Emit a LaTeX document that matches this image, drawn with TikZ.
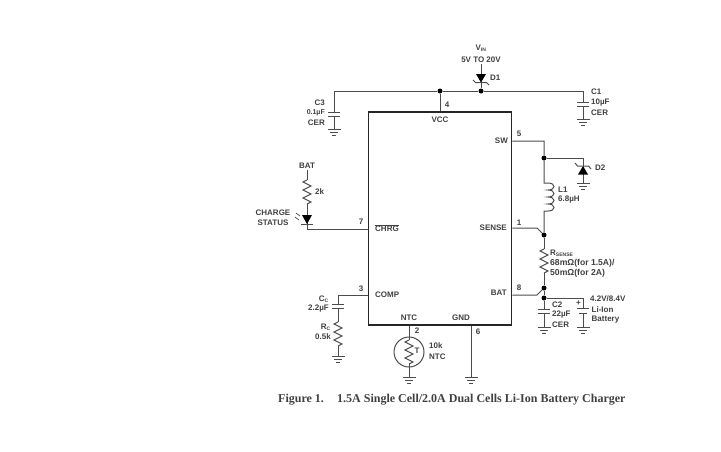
\documentclass[tikz,border=0pt]{standalone}
\usepackage{fontspec}
\setmainfont{Liberation Sans}
\newfontfamily\capfont{Liberation Serif}
\usetikzlibrary{positioning}
\definecolor{wirecol}{gray}{0.30}
\definecolor{textcol}{gray}{0.25}
\tikzset{
    wire/.style={draw=wirecol, line width=1pt},
    chipbox/.style={draw=black!85, line width=1.3pt},
    dot/.style={circle, fill=black, inner sep=0pt, minimum size=5pt},
    lbl/.style={inner sep=0pt, text=textcol, font=\fontsize{8}{8}\selectfont\bfseries},
    pin/.style={lbl},
    gnd/.pic={
        \draw[wire] (-6.5,0) -- (6.5,0);
        \draw[wire] (-4,3) -- (4,3);
        \draw[wire] (-2,6) -- (2,6);
    },
    resv/.pic={
        \draw[wire] (0,0) -- (-4,2) -- (4,6) -- (-4,10) -- (4,14) -- (-4,18) -- (4,22) -- (0,24);
    },
    capv/.pic={
        \draw[wire] (-6,0) -- (6,0);
        \draw[wire] (-6,4) -- (6,4);
    }
}
\begin{document}
\begin{tikzpicture}[x=1pt, y=-1pt]
    \useasboundingbox (0,0) rectangle (721,451);

    % Chip
    \node[chipbox, minimum width=143.5pt, minimum height=213pt, inner sep=0pt] (chip) at (440,218.5) {};
    \node[lbl] (vcc) at (440,120) {VCC};
    \node[lbl, anchor=east] (sw) at (508,141) {SW};
    \node[lbl, anchor=east] (sense) at (507,228) {SENSE};
    \node[lbl, anchor=east] (batpin) at (507,293) {BAT};
    \node[lbl, anchor=west] (chrg) at (375,228) {$\overline{\mbox{CHRG}}$};
    \node[lbl, anchor=west] (comp) at (375,295) {COMP};
    \node[lbl] (ntcpin) at (409,318) {NTC};
    \node[lbl] (gndpin) at (461,318) {GND};

    % Pin numbers
    \node[pin] (n4) at (447,105) {4};
    \node[pin] (n5) at (519,134) {5};
    \node[pin] (n1) at (519,223) {1};
    \node[pin] (n8) at (519,288) {8};
    \node[pin] (n7) at (361,222) {7};
    \node[pin] (n3) at (361,289) {3};
    \node[pin] (n2) at (417,331) {2};
    \node[pin] (n6) at (478,332) {6};

    % Junctions
    \node[dot] (jvcc) at (440,91) {};
    \node[dot] (jd1) at (481,91) {};
    \node[dot] (jd2) at (544,158) {};
    \node[dot] (jsense) at (544,235) {};
    \node[dot] (jbat) at (544,288) {};
    \node[dot] (jout) at (544,298) {};

    % VCC rail, C3 and C1
    \coordinate (c3top) at (334,91);
    \coordinate (c1top) at (583,91);
    \draw[wire] (jvcc) -- (chip.north -| jvcc);
    \draw[wire] (c3top) -- (jvcc) -- (jd1) -- (c1top);
    \draw[wire] (c3top) -- (334,112);
    \pic at (334,112) {capv};
    \draw[wire] (334,116) -- (334,129);
    \pic at (334,129) {gnd};
    \draw[wire] (c1top) -- (583,102);
    \pic at (583,102) {capv};
    \draw[wire] (583,106) -- (583,119);
    \pic at (583,119) {gnd};
    \node[lbl, anchor=east] (c3a) at (325,103) {C3};
    \node[lbl, anchor=east] (c3b) at (325,113) {\fontsize{7}{8}\selectfont 0.1µF};
    \node[lbl, anchor=east] (c3c) at (325,123) {CER};
    \node[lbl, anchor=west] (c1a) at (591,92) {C1};
    \node[lbl, anchor=west] (c1b) at (591,103) {10µF};
    \node[lbl, anchor=west] (c1c) at (591,113) {CER};

    % D1
    \node[lbl] (vin) at (481,48) {V\textsubscript{\fontsize{5}{5}\selectfont IN}};
    \node[lbl] (vrange) at (481,60) {5V TO 20V};
    \node[lbl, anchor=west] (d1) at (490,78) {D1};
    \draw[wire] (vrange.south) ++(0,1) -- (jd1);
    \fill[black] (476,74) -- (486,74) -- (481,82.5) -- cycle;
    \draw[wire] (473,80) -- (475.5,82.5) -- (486.5,82.5) -- (489,85);

    % SW, D2, L1
    \coordinate (swb) at (544,141);
    \coordinate (la) at (544,183);
    \coordinate (lb) at (544,211);
    \coordinate (d2top) at (583,158);
    \draw[wire] (chip.east |- swb) -- (swb) -- (jd2) -- (la) -- ++(4,0)
        \foreach \i in {1,...,4} { .. controls +(8,0) and +(8,0) .. ++(0,7) } -- (lb) -- (jsense);
    \draw[wire] (jd2) -- (d2top) -- (583,183);
    \pic at (583,183) {gnd};
    \fill[black] (583,166) -- (578,174.5) -- (588,174.5) -- cycle;
    \draw[wire] (575,163) -- (577.5,166) -- (588.5,166) -- (591,169);
    \node[lbl, anchor=west] (d2) at (595,168) {D2};
    \node[lbl, anchor=west] (l1a) at (558,190) {L1};
    \node[lbl, anchor=west] (l1b) at (558,200) {6.8µH};

    % SENSE, RSENSE, BAT
    \coordinate (senseb) at (537,228);
    \coordinate (batb) at (537,295);
    \draw[wire] (chip.east |- senseb) -- (senseb) -- (jsense);
    \draw[wire] (chip.east |- batb) -- (batb) -- (jbat);
    \draw[wire] (jsense) -- (544,249);
    \pic at (544,249) {resv};
    \draw[wire] (544,273) -- (jbat) -- (jout);
    \node[lbl, anchor=west] (rs) at (550,253) {R\textsubscript{\fontsize{5}{5}\selectfont SENSE}};
    \node[lbl, anchor=west, font=\fontsize{8.6}{9}\selectfont\bfseries] (rsa) at (550,263) {68mΩ(for 1.5A)/};
    \node[lbl, anchor=west, font=\fontsize{8.6}{9}\selectfont\bfseries] (rsb) at (550,273) {50mΩ(for 2A)};

    % C2 and battery
    \coordinate (battop) at (583,298);
    \draw[wire] (jout) -- (544,309);
    \pic at (544,309) {capv};
    \draw[wire] (544,313) -- (544,327);
    \pic at (544,327) {gnd};
    \draw[wire] (jout) -- (battop) -- (583,308);
    \draw[wire] (577,308) -- (589,308);
    \draw[wire] (579,313) -- (587,313);
    \draw[wire] (583,313) -- (583,327);
    \pic at (583,327) {gnd};
    \node[pin] (plus) at (578.5,303) {+};
    \node[lbl, anchor=west] (c2a) at (552,305) {C2};
    \node[lbl, anchor=west] (c2b) at (552,315) {22µF};
    \node[lbl, anchor=west] (c2c) at (552,325) {CER};
    \node[lbl, anchor=west] (bata) at (590,299) {4.2V/8.4V};
    \node[lbl, anchor=west] (batc) at (591.5,310) {Li-Ion};
    \node[lbl, anchor=west] (batd) at (591.5,320) {Battery};

    % GND pin
    \coordinate (gnda) at (471,377);
    \draw[wire] (chip.south -| gnda) -- (gnda);
    \pic at (gnda) {gnd};

    % NTC
    \node[circle, wire, minimum size=30pt, inner sep=0pt] (therm) at (409,352) {};
    \coordinate (ntcgnd) at (409,377);
    \draw[wire] (chip.south -| therm) -- (409,340);
    \pic at (409,340) {resv};
    \draw[wire] (409,364) -- (ntcgnd);
    \pic at (ntcgnd) {gnd};
    \node[lbl] (tlab) at (417,351) {T};
    \node[lbl, anchor=west] (ntca) at (429,346) {10k};
    \node[lbl, anchor=west] (ntcb) at (429,357) {NTC};

    % COMP network
    \coordinate (compb) at (338,295);
    \draw[wire] (chip.west |- compb) -- (compb) -- (338,304);
    \pic at (338,304) {capv};
    \draw[wire] (338,308) -- (338,322);
    \pic at (338,322) {resv};
    \draw[wire] (338,346) -- (338,356);
    \pic at (338,356) {gnd};
    \node[lbl, anchor=east] (cca) at (329,299) {C\textsubscript{\fontsize{5}{5}\selectfont C}};
    \node[lbl, anchor=east] (ccb) at (329,309) {2.2µF};
    \node[lbl, anchor=east] (rca) at (331,327) {R\textsubscript{\fontsize{5}{5}\selectfont C}};
    \node[lbl, anchor=east] (rcb) at (331,337) {0.5k};

    % CHRG LED
    \node[lbl] (batlab) at (307,166) {BAT};
    \coordinate (chrgb) at (307,229);
    \draw[wire] (batlab.south) ++(0,1) -- (307,180);
    \pic at (307,180) {resv};
    \draw[wire] (307,204) -- (chrgb) -- (chip.west |- chrgb);
    \fill[black] (302,215) -- (312,215) -- (307,224) -- cycle;
    \draw[wire] (301,224) -- (313,224);
    \draw[wire, line width=0.7pt] (300,216) -- (296,213) (299,220) -- (295,217);
    \node[lbl, anchor=west] (r2k) at (315,192) {2k};
    \node[lbl] (chg) at (273,213) {CHARGE};
    \node[lbl] (sta) at (273,223) {STATUS};

    % Caption
    \node[inner sep=0pt, anchor=west, text=textcol, font=\capfont\bfseries\fontsize{12}{12}\selectfont] (fig) at (278,400) {Figure 1.};
    \node[inner sep=0pt, anchor=west, text=textcol, font=\capfont\bfseries\fontsize{12}{12}\selectfont] (cap) at (337,400) {1.5A Single Cell/2.0A Dual Cells Li-Ion Battery Charger};
\end{tikzpicture}
\end{document}
